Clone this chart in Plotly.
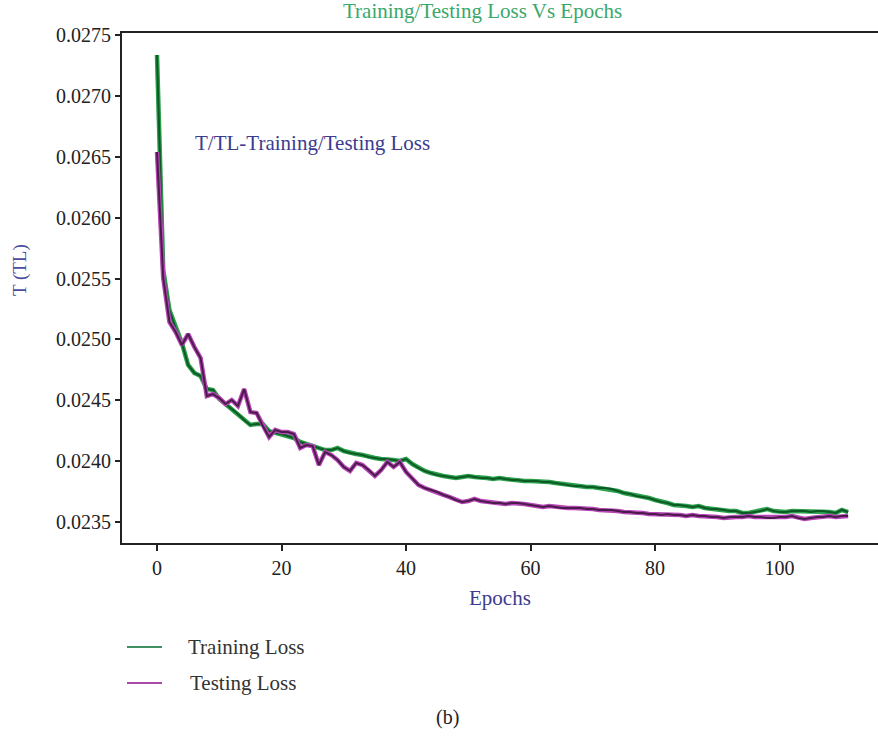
import plotly.graph_objects as go

# Loss per epoch (epochs 0..111)
epochs = list(range(112))

training_loss = [
    0.027336, 0.025570, 0.025241, 0.025093, 0.024970, 0.024790, 0.024724, 0.024699,
    0.024592, 0.024584, 0.024510, 0.024469, 0.024428, 0.024387, 0.024338, 0.024297,
    0.024305, 0.024305, 0.024247, 0.024231, 0.024223, 0.024206, 0.024190, 0.024157,
    0.024141, 0.024124, 0.024108, 0.024091, 0.024091, 0.024108, 0.024083, 0.024067,
    0.024059, 0.024050, 0.024034, 0.024026, 0.024017, 0.024017, 0.024009, 0.024001,
    0.024017, 0.023976, 0.023944, 0.023919, 0.023902, 0.023886, 0.023878, 0.023870,
    0.023861, 0.023870, 0.023878, 0.023870, 0.023861, 0.023861, 0.023853, 0.023861,
    0.023853, 0.023845, 0.023845, 0.023837, 0.023837, 0.023837, 0.023829, 0.023829,
    0.023820, 0.023812, 0.023804, 0.023796, 0.023796, 0.023787, 0.023787, 0.023779,
    0.023779, 0.023771, 0.023755, 0.023738, 0.023730, 0.023714, 0.023705, 0.023697,
    0.023681, 0.023664, 0.023656, 0.023640, 0.023640, 0.023631, 0.023623, 0.023631,
    0.023615, 0.023607, 0.023607, 0.023599, 0.023590, 0.023590, 0.023574, 0.023574,
    0.023582, 0.023590, 0.023607, 0.023590, 0.023582, 0.023582, 0.023590, 0.023590,
    0.023590, 0.023582, 0.023590, 0.023590, 0.023582, 0.023574, 0.023599, 0.023582,
]

testing_loss = [
    0.026539, 0.025504, 0.025143, 0.025061, 0.024954, 0.025044, 0.024937, 0.024847,
    0.024535, 0.024551, 0.024518, 0.024469, 0.024502, 0.024453, 0.024592, 0.024403,
    0.024395, 0.024288, 0.024198, 0.024256, 0.024239, 0.024239, 0.024223, 0.024108,
    0.024132, 0.024124, 0.023968, 0.024075, 0.024050, 0.024009, 0.023952, 0.023919,
    0.023985, 0.023968, 0.023927, 0.023878, 0.023927, 0.023993, 0.023952, 0.023993,
    0.023911, 0.023853, 0.023804, 0.023779, 0.023763, 0.023746, 0.023722, 0.023705,
    0.023681, 0.023664, 0.023672, 0.023689, 0.023672, 0.023664, 0.023656, 0.023656,
    0.023648, 0.023656, 0.023656, 0.023648, 0.023640, 0.023631, 0.023623, 0.023631,
    0.023623, 0.023615, 0.023615, 0.023615, 0.023615, 0.023607, 0.023607, 0.023599,
    0.023599, 0.023599, 0.023590, 0.023582, 0.023582, 0.023574, 0.023574, 0.023566,
    0.023566, 0.023557, 0.023566, 0.023557, 0.023557, 0.023549, 0.023557, 0.023549,
    0.023549, 0.023541, 0.023541, 0.023533, 0.023541, 0.023541, 0.023541, 0.023549,
    0.023541, 0.023541, 0.023533, 0.023533, 0.023541, 0.023541, 0.023549, 0.023533,
    0.023525, 0.023533, 0.023541, 0.023541, 0.023549, 0.023541, 0.023549, 0.023549,
]

x_ticks = [0, 20, 40, 60, 80, 100]
y_ticks = [0.0235, 0.0240, 0.0245, 0.0250, 0.0255, 0.0260, 0.0265, 0.0270, 0.0275]

SERIF = "Liberation Serif"
TEXT_BLUE = "#3b3b8f"

fig = go.Figure()

# Each curve: a soft coloured band with a darker core
fig.add_trace(go.Scatter(x=epochs, y=training_loss, mode="lines",
                         line=dict(color="#2aa04a", width=4.5), name="Training Loss",
                         showlegend=False, hoverinfo="skip"))
fig.add_trace(go.Scatter(x=epochs, y=training_loss, mode="lines",
                         line=dict(color="#0d5a26", width=2), name="Training Loss",
                         showlegend=False))
fig.add_trace(go.Scatter(x=epochs, y=testing_loss, mode="lines",
                         line=dict(color="#b845b8", width=4.5), name="Testing Loss",
                         showlegend=False, hoverinfo="skip"))
fig.add_trace(go.Scatter(x=epochs, y=testing_loss, mode="lines",
                         line=dict(color="#4a1c4a", width=2), name="Testing Loss",
                         showlegend=False))

annotations = [
    dict(text="Training/Testing Loss Vs Epochs", x=0.4775, y=1.043, xref="paper", yref="paper",
         showarrow=False, font=dict(family=SERIF, size=21, color="#3aa86b"),
         xanchor="center", yanchor="middle"),
    dict(text="T/TL-Training/Testing Loss", x=0.0939, y=0.784, xref="paper", yref="paper",
         showarrow=False, font=dict(family=SERIF, size=21, color=TEXT_BLUE),
         xanchor="left", yanchor="middle"),
    dict(text="T (TL)", x=-0.135, y=0.535, xref="paper", yref="paper", textangle=-90,
         showarrow=False, font=dict(family=SERIF, size=19, color="#4b4ba0"),
         xanchor="center", yanchor="middle"),
    dict(text="Epochs", x=0.5, y=-0.108, xref="paper", yref="paper",
         showarrow=False, font=dict(family=SERIF, size=21, color=TEXT_BLUE),
         xanchor="center", yanchor="middle"),
    dict(text="Training Loss", x=0.0847, y=-0.2039, xref="paper", yref="paper",
         showarrow=False, font=dict(family=SERIF, size=21, color="#333333"),
         xanchor="left", yanchor="middle"),
    dict(text="Testing Loss", x=0.0873, y=-0.2745, xref="paper", yref="paper",
         showarrow=False, font=dict(family=SERIF, size=21, color="#333333"),
         xanchor="left", yanchor="middle"),
    dict(text="(b)", x=0.4312, y=-0.343, xref="paper", yref="paper",
         showarrow=False, font=dict(family=SERIF, size=20, color="#222222"),
         xanchor="center", yanchor="middle"),
]

shapes = [
    dict(type="line", xref="paper", yref="paper", x0=0.0066, x1=0.0529,
         y0=-0.2039, y1=-0.2039, line=dict(color="#3f8f63", width=2)),
    dict(type="line", xref="paper", yref="paper", x0=0.0066, x1=0.0529,
         y0=-0.2745, y1=-0.2745, line=dict(color="#a84aa8", width=2)),
]

fig.update_layout(
    width=878, height=738,
    margin=dict(l=122, r=0, t=33, b=195),
    paper_bgcolor="white", plot_bgcolor="white",
    font=dict(family=SERIF, size=19, color="#222222"),
    annotations=annotations, shapes=shapes,
    showlegend=False,
)

fig.update_xaxes(
    range=[-5.62, 115.8], tickvals=x_ticks, ticktext=[str(v) for v in x_ticks],
    showgrid=False, zeroline=False, showline=True, linecolor="#222222", linewidth=2,
    mirror=True, ticks="outside", ticklen=6, tickwidth=2, tickcolor="#222222",
    tickfont=dict(family=SERIF, size=20, color="#222222"),
)
fig.update_yaxes(
    range=[0.0233275, 0.0275164], tickvals=y_ticks, ticktext=[f"{v:.4f}" for v in y_ticks],
    showgrid=False, zeroline=False, showline=True, linecolor="#222222", linewidth=2,
    ticks="outside", ticklen=5, tickwidth=2, tickcolor="#222222",
    tickfont=dict(family=SERIF, size=20, color="#222222"),
)

fig.write_html("out.html")
